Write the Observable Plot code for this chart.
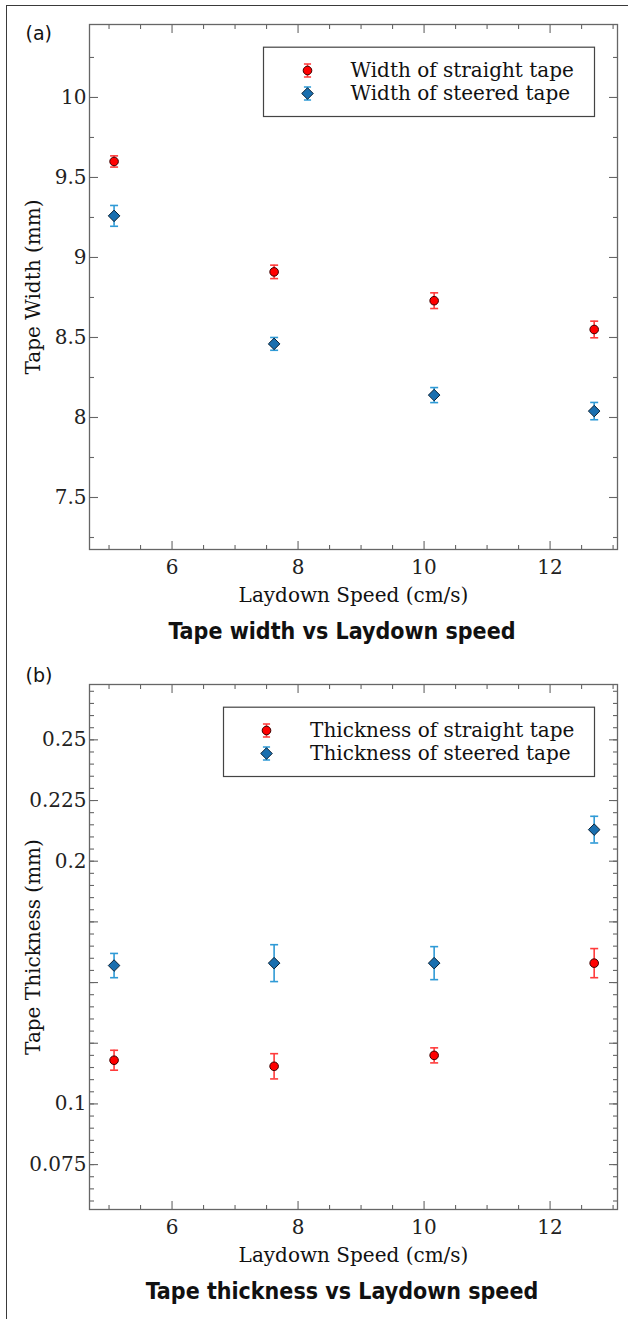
<!DOCTYPE html>
<html>
<head>
<meta charset="utf-8">
<script src="https://cdn.jsdelivr.net/npm/d3@7"></script>
<script src="https://cdn.jsdelivr.net/npm/@observablehq/plot@0.6"></script>
<style>
  html, body { margin: 0; padding: 0; background: #fff; }
  #page { position: relative; width: 628px; height: 1319px; overflow: hidden; background: #fff; }
  #border { position: absolute; left: 6px; top: 5px; width: 700px; height: 1400px;
            border-top: 1.6px solid #3a3a3a; border-left: 1.6px solid #3a3a3a; }
  .panel { position: absolute; left: 0; }
  .title { position: absolute; left: 42px; width: 600px; text-align: center;
           font-family: "DejaVu Sans Condensed", "DejaVu Sans", sans-serif; font-stretch: condensed;
           font-weight: bold; font-size: 23px; line-height: 23px; color: #111; }
</style>
</head>
<body>
<div id="page">
  <div id="border"></div>
  <div id="panelA" class="panel" style="top:0px"></div>
  <div class="title" style="top:620px">Tape width vs Laydown speed</div>
  <div id="panelB" class="panel" style="top:660px"></div>
  <div class="title" style="top:1280px">Tape thickness vs Laydown speed</div>
</div>
<script>
// ---------------- data ----------------
const speeds = [5.08, 7.62, 10.16, 12.70];

const widthStraight    = [9.60, 8.91, 8.73, 8.55];
const widthStraightErr = [0.035, 0.042, 0.049, 0.052];
const widthSteered     = [9.26, 8.46, 8.14, 8.04];
const widthSteeredErr  = [0.065, 0.040, 0.047, 0.054];

const thickStraight    = [0.118, 0.1155, 0.120, 0.158];
const thickStraightErr = [0.0041, 0.0052, 0.0031, 0.0060];
const thickSteered     = [0.157, 0.158, 0.158, 0.213];
const thickSteeredErr  = [0.0050, 0.0076, 0.0068, 0.0055];

const xTicks = [6, 8, 10, 12];
const xMinorTicks = [5, 5.5, 6.5, 7, 7.5, 8.5, 9, 9.5, 10.5, 11, 11.5, 12.5, 13];
const widthTicks = [7.5, 8, 8.5, 9, 9.5, 10];
const widthMinorTicks = [7.25, 7.75, 8.25, 8.75, 9.25, 9.75, 10.25];
const thickTicks = [0.075, 0.1, 0.125, 0.15, 0.175, 0.2, 0.225, 0.25];
const thickTickLabels = [0.075, 0.1, 0.2, 0.225, 0.25];
const thickMinorTicks = d3.range(0.06, 0.271, 0.005);

const legendA = ["Width of straight tape", "Width of steered tape"];
const legendB = ["Thickness of straight tape", "Thickness of steered tape"];

// ---------------- styling ----------------
const RED = "#ff0000", RED_ERR = "#ff3b3b", RED_EDGE = "#3a0000";
const BLUE = "#1a6faf", BLUE_ERR = "#2f9ad6", BLUE_EDGE = "#0a2236";
const AXIS = "#666";
const SERIF = "DejaVu Serif, serif";
const FS = 20;

// custom symbols (size = PI*r^2 in Plot)
const lineSym = (x0, y0, x1, y1) => ({
  draw(ctx, size) { const L = Math.sqrt(size / Math.PI); ctx.moveTo(x0 * L, y0 * L); ctx.lineTo(x1 * L, y1 * L); }
});
const tickUp = lineSym(0, 0, 0, -1), tickDown = lineSym(0, 0, 0, 1);
const tickRight = lineSym(0, 0, 1, 0), tickLeft = lineSym(0, 0, -1, 0);
const capSym = lineSym(-1, 0, 1, 0);
const ibeam = {
  draw(ctx, size) {
    const L = Math.sqrt(size / Math.PI), w = 0.55 * L;
    ctx.moveTo(0, -L); ctx.lineTo(0, L);
    ctx.moveTo(-w, -L); ctx.lineTo(w, -L);
    ctx.moveTo(-w, L); ctx.lineTo(w, L);
  }
};

function rows(ys, errs) {
  return speeds.map((x, i) => ({x, y: ys[i], lo: ys[i] - errs[i], hi: ys[i] + errs[i]}));
}

function axesMarks(yTicks, yMinor, yFormat) {
  const m = [];
  // tick labels (library axes)
  m.push(Plot.axisX({ticks: xTicks, tickSize: 0, tickPadding: 10, label: null, fontSize: FS, fill: "#222"}));
  m.push(Plot.axisY({ticks: yTicks, tickSize: 0, tickPadding: 3, label: null, fontSize: FS, fill: "#222", tickFormat: yFormat}));
  // inward ticks on all four sides
  for (const [fa, sym] of [["bottom", tickUp], ["top", tickDown]]) {
    m.push(Plot.dot(xTicks, {x: d => d, frameAnchor: fa, symbol: sym, r: 8.5, fill: "none", stroke: AXIS, strokeWidth: 1.1}));
    m.push(Plot.dot(xMinorTicks, {x: d => d, frameAnchor: fa, symbol: sym, r: 4.5, fill: "none", stroke: AXIS, strokeWidth: 1.1}));
  }
  for (const [fa, sym] of [["left", tickRight], ["right", tickLeft]]) {
    m.push(Plot.dot(yTicks, {y: d => d, frameAnchor: fa, symbol: sym, r: 8.5, fill: "none", stroke: AXIS, strokeWidth: 1.1}));
    m.push(Plot.dot(yMinor, {y: d => d, frameAnchor: fa, symbol: sym, r: 4.5, fill: "none", stroke: AXIS, strokeWidth: 1.1}));
  }
  m.push(Plot.frame({stroke: AXIS, strokeWidth: 1.3}));
  return m;
}

function seriesMarks(data, color, errColor, edge, symbol, r) {
  return [
    Plot.ruleX(data, {x: "x", y1: "lo", y2: "hi", stroke: errColor, strokeWidth: 1.6}),
    Plot.dot(data, {x: "x", y: "hi", symbol: capSym, r: 4, fill: "none", stroke: errColor, strokeWidth: 1.6}),
    Plot.dot(data, {x: "x", y: "lo", symbol: capSym, r: 4, fill: "none", stroke: errColor, strokeWidth: 1.6}),
    Plot.dot(data, {x: "x", y: "y", symbol, r, fill: color, stroke: edge, strokeWidth: 1})
  ];
}

function legendMarks(labels, box, markerDx, textDx) {
  const m = [Plot.frame({...box, stroke: "#444", strokeWidth: 1.2, fill: "white"})];
  const dys = [46, 69];
  const styles = [
    {err: RED_ERR, fill: RED, edge: RED_EDGE, symbol: "circle", r: 4.3},
    {err: BLUE_ERR, fill: BLUE, edge: BLUE_EDGE, symbol: "diamond2", r: 5.2}
  ];
  labels.forEach((lab, i) => {
    const s = styles[i];
    m.push(Plot.dot([0], {frameAnchor: "top-left", dx: markerDx, dy: dys[i], symbol: ibeam, r: 6.5, fill: "none", stroke: s.err, strokeWidth: 1.6}));
    m.push(Plot.dot([0], {frameAnchor: "top-left", dx: markerDx, dy: dys[i], symbol: s.symbol, r: s.r, fill: s.fill, stroke: s.edge, strokeWidth: 1}));
    m.push(Plot.text([lab], {frameAnchor: "top-left", dx: textDx, dy: dys[i], text: d => d, textAnchor: "start", lineAnchor: "middle", fontSize: FS, fill: "#111"}));
  });
  return m;
}

function makePlot({yDomain, yTicks, yMinor, yFormat, straight, steered, yLabel, legend, box, markerDx, textDx, tag, tagDy}) {
  return Plot.plot({
    width: 628, height: 605,
    marginTop: 24, marginBottom: 56, marginLeft: 89, marginRight: 11,
    style: {fontFamily: SERIF, fontSize: FS + "px", color: "#222", background: "transparent", overflow: "visible"},
    x: {domain: [4.69, 13.07]},
    y: {domain: yDomain},
    marks: [
      ...axesMarks(yTicks, yMinor, yFormat),
      ...seriesMarks(straight, RED, RED_ERR, RED_EDGE, "circle", 4.3),
      ...seriesMarks(steered, BLUE, BLUE_ERR, BLUE_EDGE, "diamond2", 5.2),
      ...legendMarks(legend, box, markerDx, textDx),
      Plot.text(["Laydown Speed (cm/s)"], {frameAnchor: "bottom", dy: 46, text: d => d, textAnchor: "middle", lineAnchor: "middle", fontSize: FS, fill: "#111"}),
      Plot.text([yLabel], {frameAnchor: "left", dx: -56, rotate: -90, text: d => d, textAnchor: "middle", lineAnchor: "middle", fontSize: FS, fill: "#111"}),
      Plot.text([tag], {frameAnchor: "top-left", dx: -64, dy: tagDy, text: d => d, textAnchor: "start", lineAnchor: "middle", fontFamily: "DejaVu Sans, sans-serif", fontSize: 19, fill: "#111"})
    ]
  });
}

const labelSet = new Set(thickTickLabels.map(String));

document.getElementById("panelA").append(makePlot({
  yDomain: [7.175, 10.456],
  yTicks: widthTicks, yMinor: widthMinorTicks, yFormat: d => String(d),
  straight: rows(widthStraight, widthStraightErr),
  steered: rows(widthSteered, widthSteeredErr),
  yLabel: "Tape Width (mm)",
  legend: legendA,
  box: {insetLeft: 174, insetRight: 23, insetTop: 22.7, insetBottom: 433},
  markerDx: 218, textDx: 261,
  tag: "(a)", tagDy: 9
}));

document.getElementById("panelB").append(makePlot({
  yDomain: [0.0565, 0.2728],
  yTicks: thickTicks, yMinor: thickMinorTicks,
  yFormat: d => labelSet.has(String(+d.toFixed(3))) ? String(+d.toFixed(3)) : "",
  straight: rows(thickStraight, thickStraightErr),
  steered: rows(thickSteered, thickSteeredErr),
  yLabel: "Tape Thickness (mm)",
  legend: legendB,
  box: {insetLeft: 134, insetRight: 23, insetTop: 22.7, insetBottom: 433},
  markerDx: 177, textDx: 220.6,
  tag: "(b)", tagDy: -9
}));
</script>
</body>
</html>
